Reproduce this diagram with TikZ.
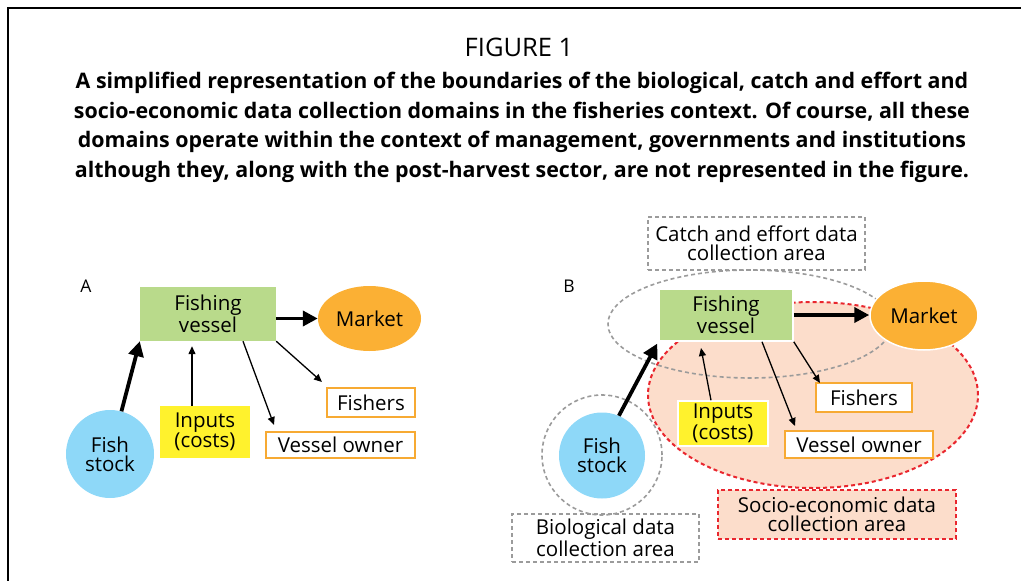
\documentclass[tikz,border=0pt]{standalone}
\usepackage{fontspec}
\setmainfont{Open Sans}
\usetikzlibrary{arrows.meta,shapes.geometric}

\definecolor{vesselgreen}{HTML}{B9DA8B}
\definecolor{marketorange}{HTML}{FBB034}
\definecolor{fishblue}{HTML}{8ED8F8}
\definecolor{inputyellow}{HTML}{FFF22D}
\definecolor{partyorange}{HTML}{F7AA33}
\definecolor{areagray}{HTML}{9B9B9B}
\definecolor{areared}{HTML}{E9262E}
\definecolor{socpeach}{HTML}{FCDDCB}

\tikzset{
  lbl/.style={font=\fontsize{20.5}{19}\selectfont, align=center, inner sep=0pt},
  vesselbox/.style={lbl, rectangle, fill=vesselgreen},
  marketnode/.style={lbl, ellipse, fill=marketorange},
  fishnode/.style={lbl, circle, fill=fishblue},
  inputbox/.style={lbl, rectangle, fill=inputyellow},
  partybox/.style={lbl, rectangle, draw=partyorange, line width=2pt, fill=white},
  whiteedge/.style={draw=white, line width=1.5pt},
  grayarea/.style={draw=areagray, line width=1.6pt, dash pattern=on 4pt off 3pt},
  redarea/.style={draw=areared, line width=2pt, dash pattern=on 4pt off 3pt},
  bigarrow/.style={line width=3.8pt, -{Triangle[length=15pt,width=15pt]}},
  thinarrow/.style={line width=1.3pt, -{Triangle[length=8pt,width=7pt]}},
  panelletter/.style={font=\fontsize{17.5}{17.5}\selectfont, inner sep=0pt}
}

\begin{document}
\begin{tikzpicture}[x=1pt,y=-1pt]
\useasboundingbox (0,0) rectangle (1021,581);

% page frame
\draw[line width=1.6pt] (1021,8) -- (8,8) -- (8,581);

% heading and caption
\node[inner sep=0pt, font=\fontsize{25.5}{25.5}\selectfont] (title) at (519,47) {FIGURE 1};
\node[inner sep=0pt, align=center, font=\bfseries\fontsize{21.4}{29.5}\selectfont] (caption) at (522,127.5)
 {A simplified representation of the boundaries of the biological, catch and effort and\\
  socio-economic data collection domains in the fisheries context. Of course, all these\\
  domains operate within the context of management, governments and institutions\\
  although they, along with the post-harvest sector, are not represented in the figure.};

% ---------------- panel A ----------------
\node[panelletter] (letterA) at (86,286) {A};
\node[vesselbox, minimum width=136pt, minimum height=54pt] (vA) at (208,314) {Fishing\\vessel};
\node[marketnode, minimum width=103pt, minimum height=65pt] (mA) at (369.5,318.5) {Market};
\node[fishnode, minimum size=88pt] (fA) at (110,454) {Fish\\stock};
\node[inputbox, minimum width=90pt, minimum height=52pt] (iA) at (205,432) {Inputs\\(costs)};
\node[partybox, minimum width=88pt, minimum height=29pt] (fishersA) at (371,402.5) {Fishers};
\node[partybox, minimum width=149pt, minimum height=26pt] (ownerA) at (340.5,445) {Vessel owner};

\coordinate (ownerTipA) at (274,425);
\coordinate (fishersTipA) at (322,382);

\draw[bigarrow] (vA.east |- mA.west) -- (mA.west);
\draw[bigarrow] (fA.75) -- (vA.south west);
\draw[thinarrow, shorten >=5pt] ([xshift=-13pt]iA.north) -- ([xshift=-13pt]iA.north |- vA.south);
\draw[thinarrow] ([xshift=35pt]vA.south) -- (ownerTipA);
\draw[thinarrow] (vA.south east) -- (fishersTipA);

% ---------------- panel B ----------------
\node[panelletter] (letterB) at (569,286) {B};

% data collection areas
\node[redarea, fill=socpeach, ellipse, inner sep=0pt, minimum width=330pt, minimum height=186pt] (socArea) at (813,395) {};
\node[grayarea, ellipse, inner sep=0pt, minimum width=284pt, minimum height=108pt] (catchArea) at (750,324) {};
\node[grayarea, circle, inner sep=0pt, minimum size=120pt] (bioArea) at (602,455) {};

\node[lbl, grayarea, minimum width=217pt, minimum height=53pt] (catchLabel) at (756.5,243.5) {Catch and effort data\\collection area};
\node[lbl, grayarea, minimum width=187pt, minimum height=48pt] (bioLabel) at (605.5,538) {Biological data\\collection area};
\node[lbl, redarea, fill=socpeach, minimum width=238pt, minimum height=49pt] (socLabel) at (837,514.5) {Socio-economic data\\collection area};

% actors
\node[vesselbox, whiteedge, minimum width=134pt, minimum height=52pt] (vB) at (726,315) {Fishing\\vessel};
\node[marketnode, whiteedge, minimum width=108pt, minimum height=69pt] (mB) at (924,315.5) {Market};
\node[fishnode, minimum size=86pt] (fB) at (602,455.5) {Fish\\stock};
\node[inputbox, whiteedge, minimum width=90pt, minimum height=45pt] (iB) at (723,423.5) {Inputs\\(costs)};
\node[partybox, minimum width=96pt, minimum height=29pt] (fishersB) at (864,397.5) {Fishers};
\node[partybox, minimum width=148pt, minimum height=27pt] (ownerB) at (859,444.5) {Vessel owner};

\coordinate (inputTipB) at (701,348);
\coordinate (ownerTipB) at (795,426);
\coordinate (fishersTipB) at (820,383);

\draw[bigarrow] (vB.east) -- (vB.east -| mB.west);
\draw[bigarrow, shorten >=2pt] (fB.67) -- (vB.south west);
\draw[thinarrow] ([xshift=-12pt]iB.north) -- (inputTipB);
\draw[thinarrow] ([xshift=36pt]vB.south) -- (ownerTipB);
\draw[thinarrow] (vB.south east) -- (fishersTipB);
\end{tikzpicture}
\end{document}
